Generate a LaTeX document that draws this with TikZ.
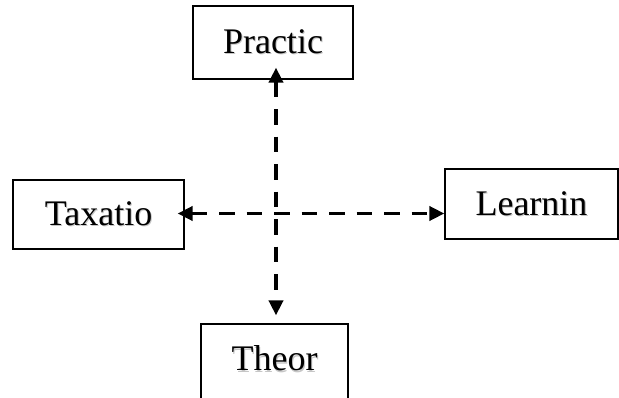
\documentclass[tikz,border=0pt]{standalone}
\usepackage{fontspec}
\setmainfont{Liberation Serif}
\usetikzlibrary{arrows.meta}

% text with a soft grey shadow
\newcommand{\shadowed}[1]{\makebox[0pt][l]{\hspace{1.2pt}\raisebox{-1.2pt}{\color{gray!45}#1}}#1}

\begin{document}
\begin{tikzpicture}[x=1pt,y=-1pt,
    box/.style={draw,line width=1.2pt,inner sep=0pt,font=\fontsize{36}{40}\selectfont},
    link/.style={line width=3.6pt,dash pattern=on 15.5pt off 12pt,
        {Triangle[length=15pt,width=14pt]}-{Triangle[length=15pt,width=14pt]}}]

    \useasboundingbox (0,0) rectangle (619,398);

    % practice
    \node[box,minimum width=160pt,minimum height=73pt] (practic) at (273,42.5) {\shadowed{Practic}};

    % taxation
    \node[box,minimum width=171pt,minimum height=69pt] (taxatio) at (98.5,214.5) {\shadowed{Taxatio}};

    % learning
    \node[box,minimum width=173pt,minimum height=70pt] (learnin) at (531.5,204) {\shadowed{Learnin}};

    % theory
    \node[box,minimum width=147pt,minimum height=82pt,text depth=13pt] (theor) at (274.5,365) {\shadowed{Theor}};

    %%%%%%%%%%%%%%%%%%%%%%%%%%%%%%%%%%%%%%%%%%%%%%%%%%%%%%%%%

    % practice <-> theory
    \draw[link,shorten <=-12pt,shorten >=8pt]([xshift=3pt]practic.south) to ([xshift=1.5pt]theor.north);

    % taxation <-> learning
    \draw[link,shorten <=-7pt]([yshift=1pt]taxatio.east) to ([yshift=-9.5pt]learnin.west);

\end{tikzpicture}
\end{document}
